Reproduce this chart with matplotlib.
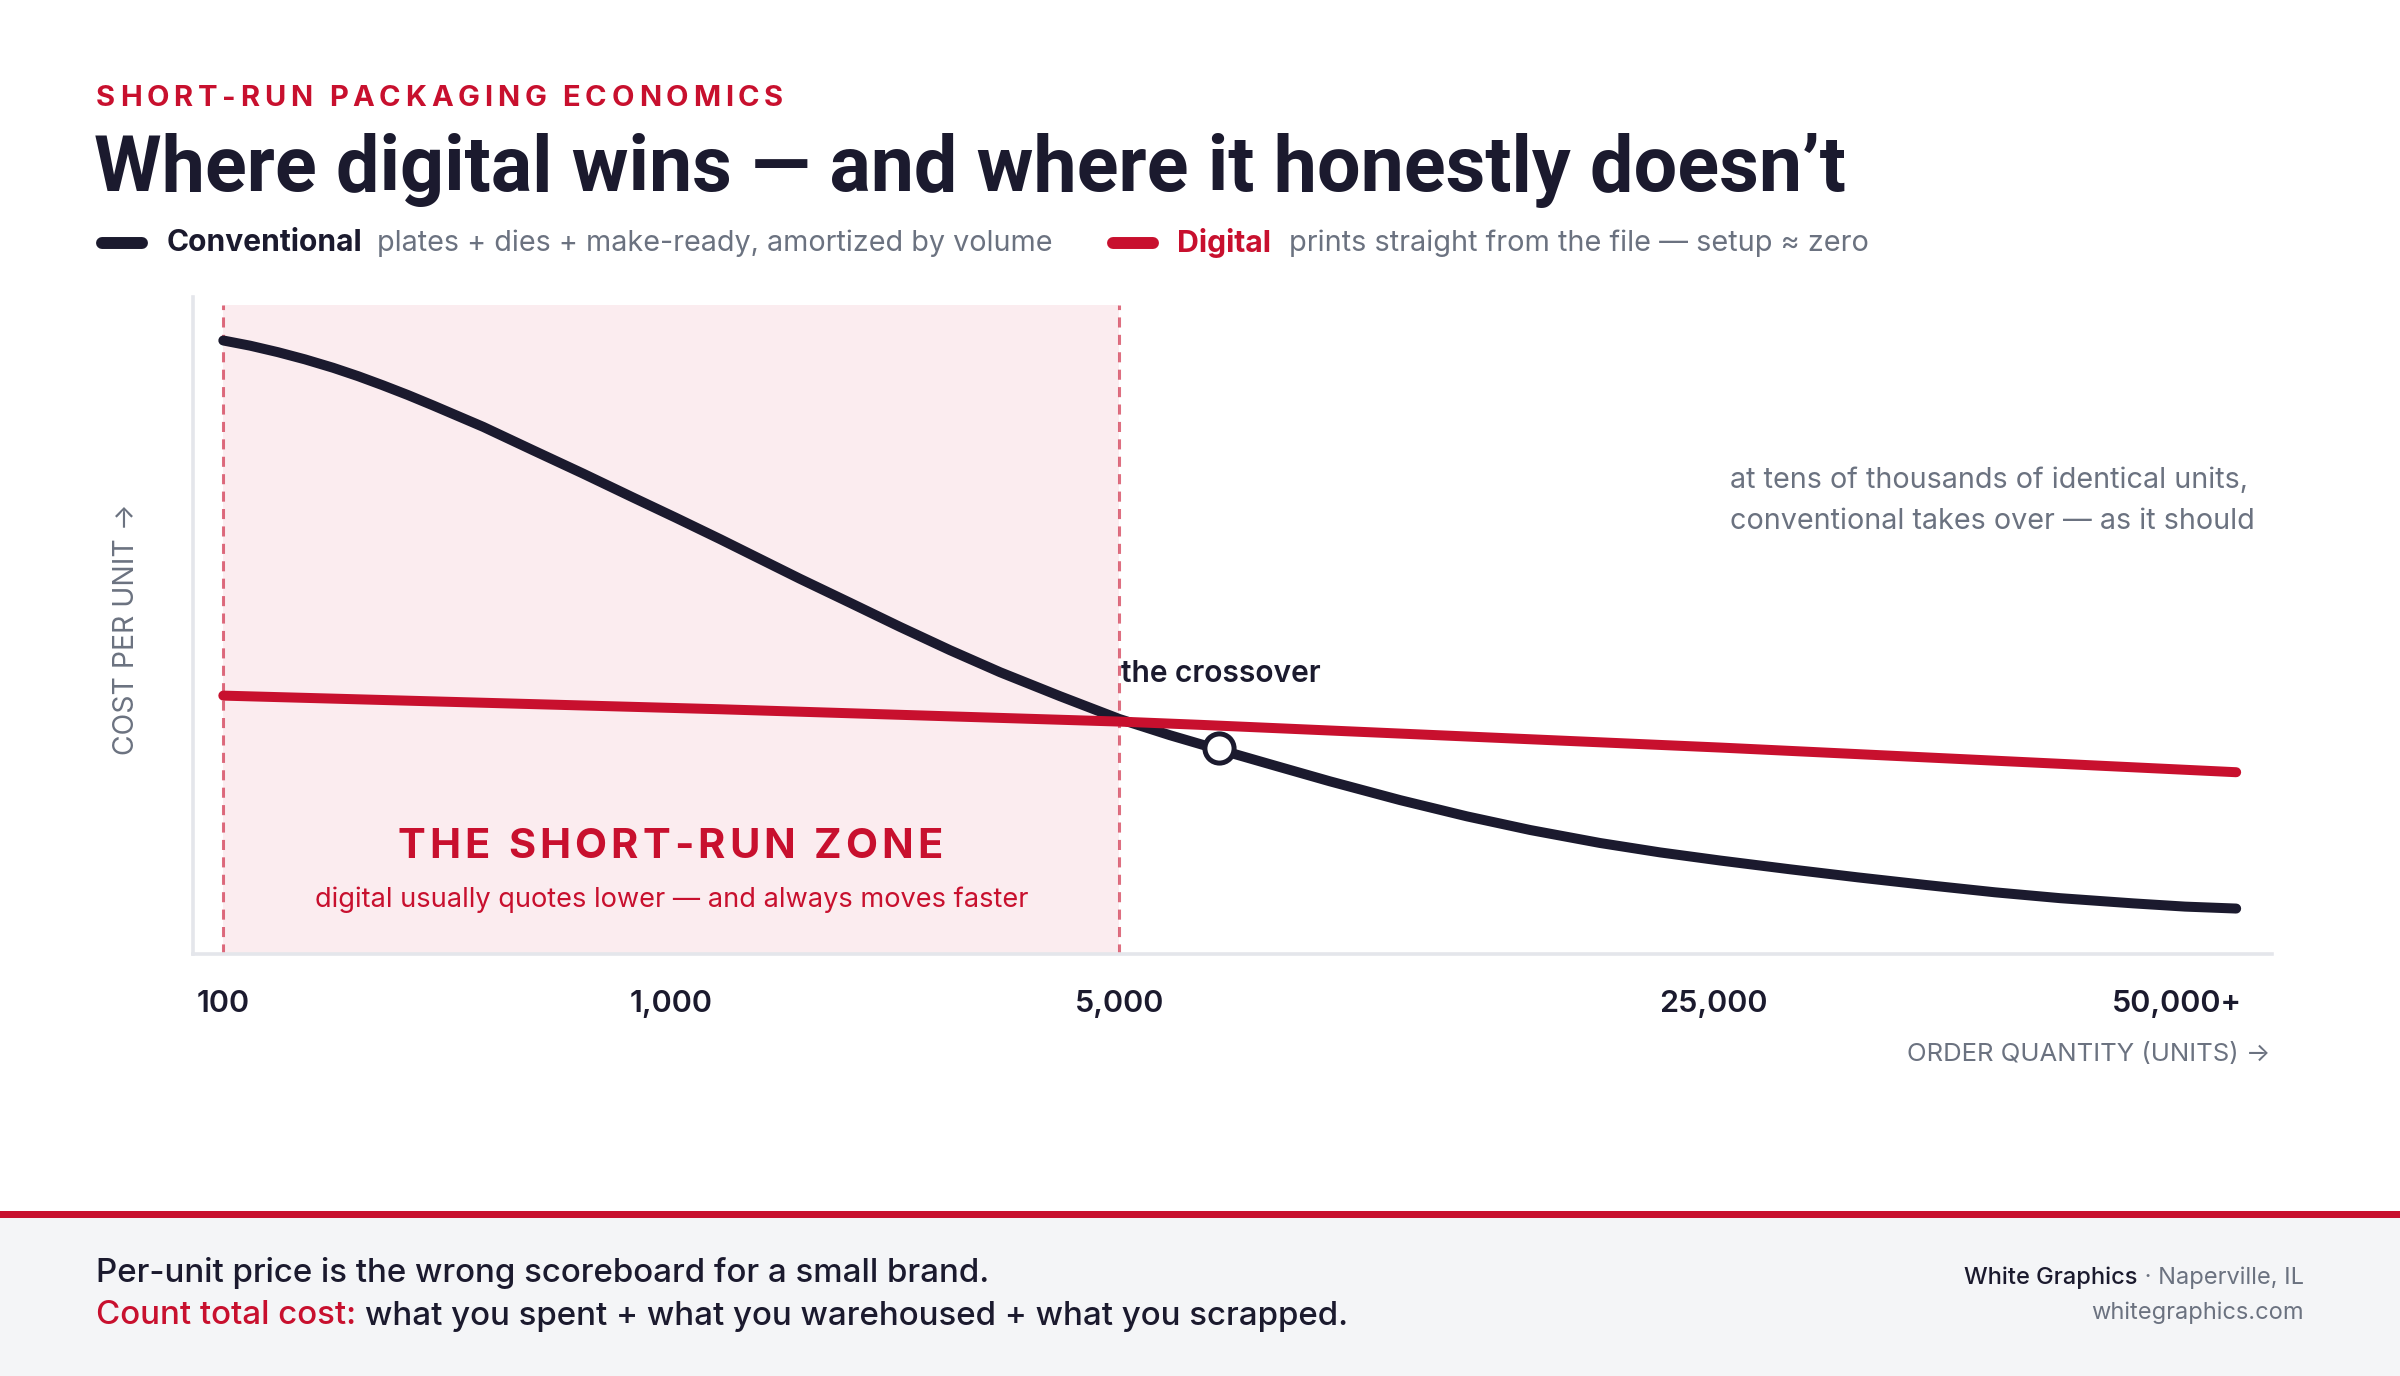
import matplotlib
matplotlib.use("Agg")
import matplotlib.pyplot as plt
from matplotlib.font_manager import FontProperties
from matplotlib.lines import Line2D
from matplotlib.patches import Rectangle

W, H, DPI = 2400, 1376, 100

NAVY = "#1b1a2e"
RED = "#c8102e"
GRAY = "#6b7280"
PINK = "#fbecef"
SPINE = "#e4e6eb"
FOOT_BG = "#f4f5f7"

plt.rcParams['font.family'] = ['Inter', 'DejaVu Sans']

# ---- data (x = position on the quantity axis, y = relative cost per unit) ----
tick_labels = ["100", "1,000", "5,000", "25,000", "50,000+"]
tick_pos = [0, 1, 2, 3.325, 4.36]

conv_x = [0, 0.060, 0.122, 0.182, 0.245, 0.301, 0.356, 0.412, 0.468, 0.580,
          0.691, 0.803, 0.915, 1.010, 1.109, 1.198, 1.287, 1.399, 1.510, 1.622,
          1.734, 1.868, 2.0, 2.113, 2.222, 2.348, 2.470, 2.627, 2.776, 2.917,
          3.073, 3.207, 3.341, 3.497, 3.649, 3.798, 3.955, 4.100, 4.263, 4.379,
          4.493]
conv_y = [94.5, 93.7, 92.7, 91.6, 90.3, 89.0, 87.6, 86.1, 84.5, 81.2,
          77.6, 74.0, 70.3, 67.2, 63.9, 60.85, 57.8, 54.1, 50.4, 46.8,
          43.4, 39.7, 36.2, 33.7, 31.5, 29.0, 26.6, 23.7, 21.2, 19.1,
          17.1, 15.65, 14.4, 13.05, 11.8, 10.65, 9.5, 8.6, 7.8, 7.3,
          7.0]

digi_x = [0, 1.109, 2.0, 2.18, 3.341, 4.493]
digi_y = [39.8, 37.7, 35.8, 35.3, 31.8, 28.0]

crossover_x, crossover_y = 2.222, 31.8
zone_start, zone_end = 0, 2

fig = plt.figure(figsize=(W / DPI, H / DPI), dpi=DPI)
fig.patch.set_facecolor("white")
renderer = fig.canvas.get_renderer()


def fx(x):
    return x / W


def fy(y):
    return 1 - y / H


def text_w(s, fp):
    w1 = renderer.get_text_width_height_descent(s + "|", fp, ismath=False)[0]
    w0 = renderer.get_text_width_height_descent("|", fp, ismath=False)[0]
    return w1 - w0


def tracked(x, y, s, target_w, ha="left", **kw):
    # letter-spaced text: spread characters to a given width (pixels)
    fp = FontProperties(family=['Inter', 'DejaVu Sans'], weight=kw.get("weight", "bold"),
                        size=kw.get("size", 20))
    adv = [text_w(c, fp) for c in s]
    track = (target_w - sum(adv)) / (len(s) - 1)
    x0 = x - target_w / 2 if ha == "center" else x
    for c, a in zip(s, adv):
        fig.text(fx(x0), fy(y), c, fontproperties=fp, color=kw.get("color", NAVY),
                 ha="left", va="center")
        x0 += a + track


# ---- main axes ----
ax = fig.add_axes([fx(192.5), fy(954), (2272 - 192.5) / W, (954 - 297) / H])
ax.set_xlim(-0.0688, 4.573)
ax.set_ylim(0, 101.2)
for s in ["top", "right"]:
    ax.spines[s].set_visible(False)
for s in ["left", "bottom"]:
    ax.spines[s].set_color(SPINE)
    ax.spines[s].set_linewidth(2.6)
ax.set_yticks([])
ax.set_xticks(tick_pos)
ax.set_xticklabels(tick_labels, fontsize=22, fontweight="semibold", color=NAVY)
ax.tick_params(axis="x", length=0, pad=26)

ax.axvspan(zone_start, zone_end, ymin=0, ymax=100 / 101.2, color=PINK, lw=0, zorder=0)
ax.vlines([zone_start, zone_end], 0, 100, colors=RED, alpha=0.6, lw=2.2,
          linestyles=[(0, (3.3, 2.4))], zorder=1)

ax.plot(conv_x, conv_y, color=NAVY, lw=7.2, solid_capstyle="round",
        solid_joinstyle="round", zorder=3)
ax.plot(digi_x, digi_y, color=RED, lw=7.2, solid_capstyle="round",
        solid_joinstyle="round", zorder=4)
ax.plot([crossover_x], [crossover_y], "o", ms=21, mfc="white", mec=NAVY, mew=3.6, zorder=5)

ax.text(2.003, 41.9, "the crossover", fontsize=21.6, fontweight="semibold", color=NAVY,
        ha="left", va="baseline")
ax.text(1, 8.3, "digital usually quotes lower \u2014 and always moves faster", fontsize=19.6,
        color=RED, ha="center", va="center")

# ---- letter-spaced labels ----
tracked(96, 99, "SHORT-RUN PACKAGING ECONOMICS", 687, size=21, color=RED)
tracked(670, 847, "THE SHORT-RUN ZONE", 545, ha="center", size=30, color=RED)

# annotation at right
fig.text(fx(1730), fy(501), "at tens of thousands of identical units,\nconventional takes over \u2014 as it should",
         fontsize=20.7, color=GRAY, ha="left", va="center", linespacing=1.63)

# axis labels
fig.text(fx(127), fy(629), "COST PER UNIT \u2192", rotation=90, fontsize=20.4, color=GRAY,
         ha="center", va="center")
fig.text(fx(2270), fy(1055), "ORDER QUANTITY (UNITS) \u2192", fontsize=18.5, color=GRAY,
         ha="right", va="center")

# ---- title + legend ----
fig.text(fx(94), fy(170), "Where digital wins \u2014 and where it honestly doesn\u2019t",
         fontsize=55.6, fontweight="bold", family=["Roboto", "DejaVu Sans"], color=NAVY,
         ha="left", va="center")

LEG_Y = 243
fig.add_artist(Line2D([fx(102), fx(142)], [fy(LEG_Y), fy(LEG_Y)], color=NAVY, lw=8.6,
                      solid_capstyle="round"))
fig.text(fx(167), fy(LEG_Y), "Conventional", fontsize=21.6, fontweight="bold", color=NAVY,
         ha="left", va="center")
fig.text(fx(377), fy(LEG_Y), "plates + dies + make-ready, amortized by volume", fontsize=20.7,
         color=GRAY, ha="left", va="center")
fig.add_artist(Line2D([fx(1113), fx(1153)], [fy(LEG_Y), fy(LEG_Y)], color=RED, lw=8.6,
                      solid_capstyle="round"))
fig.text(fx(1177), fy(LEG_Y), "Digital", fontsize=21.8, fontweight="bold", color=RED,
         ha="left", va="center")
fig.text(fx(1289), fy(LEG_Y), "prints straight from the file \u2014 setup \u2248 zero", fontsize=20.8,
         color=GRAY, ha="left", va="center")

# ---- footer ----
fig.add_artist(Rectangle((0, 0), 1, fy(1218), transform=fig.transFigure, color=FOOT_BG, lw=0))
fig.add_artist(Rectangle((0, fy(1218)), 1, 7 / H, transform=fig.transFigure, color=RED, lw=0))

foot_fp = FontProperties(family=['Inter', 'DejaVu Sans'], weight="medium", size=23.8)
fig.text(fx(96), fy(1273), "Per-unit price is the wrong scoreboard for a small brand.",
         fontproperties=foot_fp, color=NAVY, ha="left", va="center")
lead = "Count total cost: "
fig.text(fx(96), fy(1316), lead, fontproperties=foot_fp, color=RED, ha="left", va="center")
fig.text(fx(96 + text_w(lead, foot_fp)), fy(1316),
         "what you spent + what you warehoused + what you scrapped.",
         fontproperties=foot_fp, color=NAVY, ha="left", va="center")

sig_fp = FontProperties(family=['Inter', 'DejaVu Sans'], size=17)
sig_b = FontProperties(family=['Inter', 'DejaVu Sans'], size=17, weight="medium")
place = " \u00b7 Naperville, IL"
fig.text(fx(2304), fy(1278), place, fontproperties=sig_fp, color=GRAY, ha="right", va="center")
fig.text(fx(2304 - text_w(place, sig_fp)), fy(1278), "White Graphics", fontproperties=sig_b,
         color=NAVY, ha="right", va="center")
fig.text(fx(2304), fy(1313), "whitegraphics.com", fontproperties=sig_fp, color=GRAY,
         ha="right", va="center")

fig.savefig("out.png", dpi=DPI, facecolor="white")
